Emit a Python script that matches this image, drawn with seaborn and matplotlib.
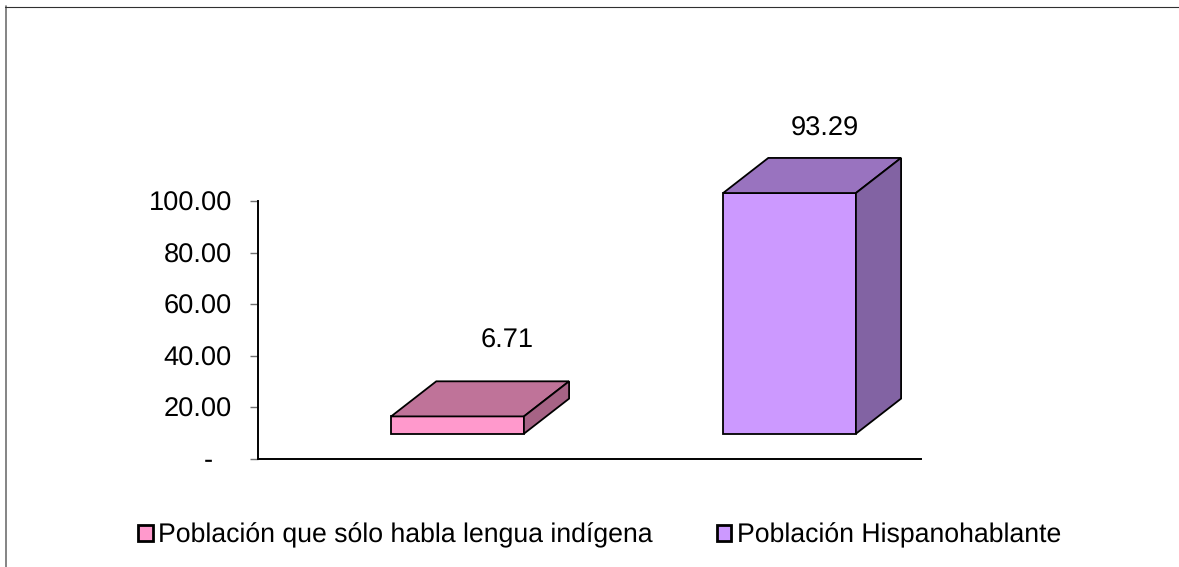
import matplotlib
matplotlib.use("Agg")
import matplotlib.pyplot as plt
import matplotlib.transforms as mtransforms
from matplotlib.lines import Line2D
from matplotlib.patches import Polygon
import pandas as pd
import seaborn as sns

categories = ["Población que sólo habla lengua indígena", "Población Hispanohablante"]
values = [6.71, 93.29]
value_labels = ["6.71", "93.29"]
y_ticks = [0, 20, 40, 60, 80, 100]
y_tick_labels = ["-", "20.00", "40.00", "60.00", "80.00", "100.00"]

front_colors = ["#FF99CC", "#CC99FF"]
top_colors = ["#BF7399", "#9973BF"]
side_colors = ["#A66385", "#8263A3"]

# fake 3d: bars float above the floor, depth is in data units
floor_gap = 9.8
depth_x = 0.136
depth_y = 13.6
label_shift = [(49.5, 76), (35.5, 64)]  # px from top centre of the front face

W, H = 1179, 567
sns.set_style("white")
plt.rcParams["font.family"] = ["Liberation Sans", "DejaVu Sans"]
plt.rcParams["text.hinting"] = "no_hinting"
FS = 19.6
LEG_FS = 19.2
EDGE = 1.3

fig = plt.figure(figsize=(W / 100, H / 100), dpi=100)
ax = fig.add_axes([258 / W, 1 - 459 / H, (921 - 258) / W, (459 - 201) / H])
ax.patch.set_alpha(0)

df = pd.DataFrame({"cat": categories, "val": values})
sns.barplot(data=df, x="cat", y="val", hue="cat", palette=front_colors, dodge=False,
            width=0.4, edgecolor="black", linewidth=EDGE,
            saturation=1, legend=True, ax=ax)

ax.set_xlim(-0.601, 1.396)
ax.set_ylim(0, 100)
ax.set_xticks([])
ax.set_xlabel("")
ax.set_ylabel("")
ax.set_yticks(y_ticks)
ax.set_yticklabels(y_tick_labels, fontsize=FS, color="black")
ax.tick_params(axis="y", left=True, length=5.8, width=1, color="#707070", pad=13)
for name in ["top", "right"]:
    ax.spines[name].set_visible(False)
for name in ["left", "bottom"]:
    ax.spines[name].set_color("black")
    ax.spines[name].set_linewidth(1.4)

# the "-" sits further left in the original number format
dash = ax.get_yticklabels()[0]
dash.set_transform(dash.get_transform() + mtransforms.Affine2D().translate(-19, 1))

bars = [c[0] for c in ax.containers]
for i, bar in enumerate(bars):
    bar.set_clip_on(False)
    bar.set_y(floor_gap)
    x0, x1 = bar.get_x(), bar.get_x() + bar.get_width()
    y0, y1 = bar.get_y(), bar.get_y() + bar.get_height()
    top = [(x0, y1), (x1, y1), (x1 + depth_x, y1 + depth_y), (x0 + depth_x, y1 + depth_y)]
    side = [(x1, y0), (x1 + depth_x, y0 + depth_y), (x1 + depth_x, y1 + depth_y), (x1, y1)]
    ax.add_patch(Polygon(top, closed=True, facecolor=top_colors[i], edgecolor="black",
                         linewidth=EDGE, clip_on=False))
    ax.add_patch(Polygon(side, closed=True, facecolor=side_colors[i], edgecolor="black",
                         linewidth=EDGE, clip_on=False))
    ax.annotate(value_labels[i], xy=((x0 + x1) / 2, y1),
                xytext=(label_shift[i][0] * 0.72, label_shift[i][1] * 0.72),
                textcoords="offset points", ha="center", va="center",
                fontsize=FS, color="black", annotation_clip=False)

handles, labels = ax.get_legend_handles_labels()
leg = ax.legend(handles, labels, ncol=2, loc="center left", frameon=False,
                bbox_to_anchor=(138 / W, 1 - 535 / H), bbox_transform=fig.transFigure,
                fontsize=LEG_FS, labelcolor="black", handlelength=0.55, handleheight=0.55,
                handletextpad=0.2, columnspacing=2.4, borderpad=0, borderaxespad=0)
for h in leg.legend_handles:
    h.set_linewidth(2)
    h.set_edgecolor("black")

# outer chart frame, only top and left fall inside the crop
fig.add_artist(Line2D([5.5 / W, 5.5 / W], [0, 1 - 6 / H], color="#707070", linewidth=1.2))
fig.add_artist(Line2D([5 / W, 1], [1 - 6.5 / H, 1 - 6.5 / H], color="#303030", linewidth=0.8))

fig.savefig("out.png", dpi=100, facecolor="white")
